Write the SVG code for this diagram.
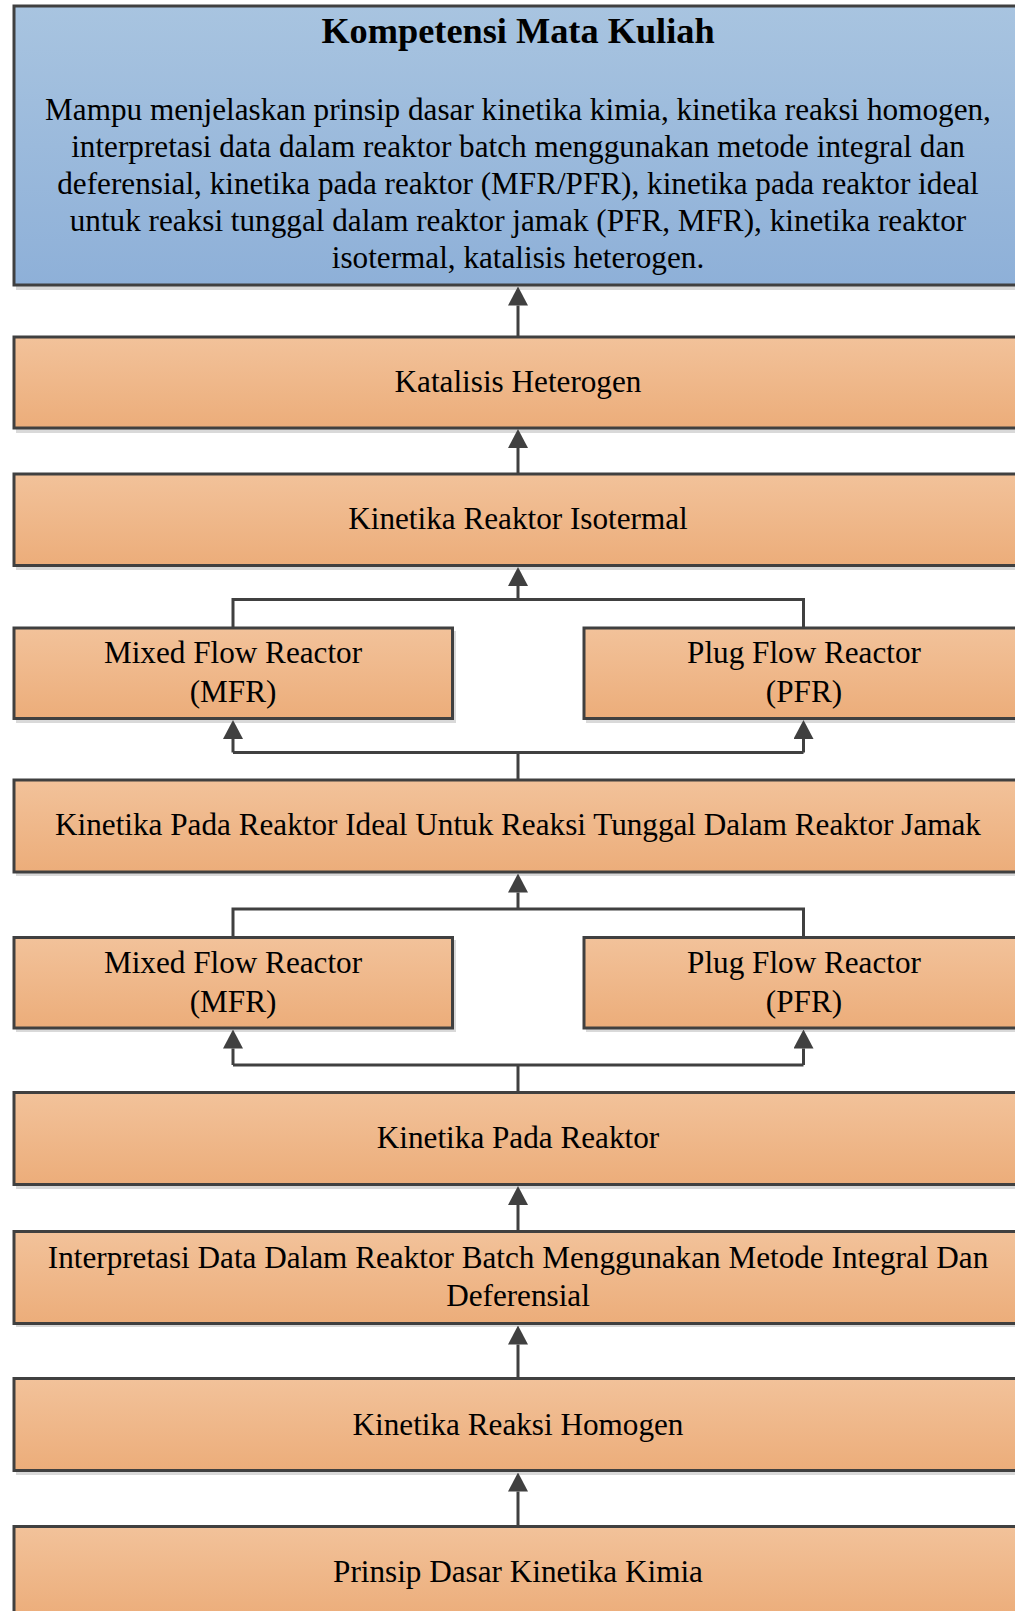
<svg xmlns="http://www.w3.org/2000/svg" width="1015" height="1611" viewBox="0 0 1015 1611">
<style>
.box{stroke:#404040;stroke-width:3;fill:url(#gOr)}
.blue{stroke:#404040;stroke-width:3;fill:url(#gBl)}
.sh{fill:#d9d9d9}
.t{font-family:"Liberation Serif","Times New Roman",serif;font-size:31.2px;fill:#000;text-anchor:middle}
.title{font-family:"Liberation Serif","Times New Roman",serif;font-size:36.3px;font-weight:bold;fill:#000;text-anchor:middle}
.c{fill:none;stroke:#404040;stroke-width:3}
</style>
<defs>
<linearGradient id="gOr" x1="0" y1="0" x2="0" y2="1">
<stop offset="0" stop-color="#f2c29a"/>
<stop offset="1" stop-color="#ecad7a"/>
</linearGradient>
<linearGradient id="gBl" x1="0" y1="0" x2="0" y2="1">
<stop offset="0" stop-color="#a8c4e0"/>
<stop offset="1" stop-color="#8eb0d8"/>
</linearGradient>
<marker id="ah" viewBox="0 0 19 20" markerWidth="19" markerHeight="20" refX="0" refY="10" orient="auto" markerUnits="userSpaceOnUse">
<path d="M0,0 L19,10 L0,20 Z" fill="#404040"/>
</marker>
</defs>

<g id="kompetensi">
<rect class="sh" x="16" y="9" width="1010" height="281"/>
<rect class="blue" x="14" y="6" width="1008" height="279"/>
<text class="title" x="518" y="43">Kompetensi Mata Kuliah</text>
<text class="t" x="518" y="120">Mampu menjelaskan prinsip dasar kinetika kimia, kinetika reaksi homogen,</text>
<text class="t" x="518" y="157">interpretasi data dalam reaktor batch menggunakan metode integral dan</text>
<text class="t" x="518" y="194">deferensial, kinetika pada reaktor (MFR/PFR), kinetika pada reaktor ideal</text>
<text class="t" x="518" y="231">untuk reaksi tunggal dalam reaktor jamak (PFR, MFR), kinetika reaktor</text>
<text class="t" x="518" y="268">isotermal, katalisis heterogen.</text>
</g>

<g id="katalisis">
<rect class="sh" x="16" y="340" width="1010" height="93"/>
<rect class="box" x="14" y="337" width="1008" height="91"/>
<text class="t" x="518" y="392">Katalisis Heterogen</text>
</g>

<g id="isotermal">
<rect class="sh" x="16" y="477" width="1010" height="93"/>
<rect class="box" x="14" y="474" width="1008" height="91.5"/>
<text class="t" x="518" y="529">Kinetika Reaktor Isotermal</text>
</g>

<g id="mfr1">
<rect class="sh" x="16" y="631" width="440" height="92"/>
<rect class="box" x="14" y="628" width="438.5" height="90.5"/>
<text class="t" x="233" y="663">Mixed Flow Reactor</text>
<text class="t" x="233" y="702">(MFR)</text>
</g>

<g id="pfr1">
<rect class="sh" x="586" y="631" width="440" height="92"/>
<rect class="box" x="584" y="628" width="440" height="90.5"/>
<text class="t" x="804" y="663">Plug Flow Reactor</text>
<text class="t" x="804" y="702">(PFR)</text>
</g>

<g id="ideal">
<rect class="sh" x="16" y="783" width="1010" height="93"/>
<rect class="box" x="14" y="780" width="1008" height="92"/>
<text class="t" x="518" y="835">Kinetika Pada Reaktor Ideal Untuk Reaksi Tunggal Dalam Reaktor Jamak</text>
</g>

<g id="mfr2">
<rect class="sh" x="16" y="940" width="440" height="92"/>
<rect class="box" x="14" y="937.5" width="438.5" height="90.5"/>
<text class="t" x="233" y="973">Mixed Flow Reactor</text>
<text class="t" x="233" y="1012">(MFR)</text>
</g>

<g id="pfr2">
<rect class="sh" x="586" y="940" width="440" height="92"/>
<rect class="box" x="584" y="937.5" width="440" height="90.5"/>
<text class="t" x="804" y="973">Plug Flow Reactor</text>
<text class="t" x="804" y="1012">(PFR)</text>
</g>

<g id="pada-reaktor">
<rect class="sh" x="16" y="1095" width="1010" height="94"/>
<rect class="box" x="14" y="1092.5" width="1008" height="92"/>
<text class="t" x="518" y="1148">Kinetika Pada Reaktor</text>
</g>

<g id="interpretasi">
<rect class="sh" x="16" y="1234" width="1010" height="93"/>
<rect class="box" x="14" y="1231.5" width="1008" height="92"/>
<text class="t" x="518" y="1268">Interpretasi Data Dalam Reaktor Batch Menggunakan Metode Integral Dan</text>
<text class="t" x="518" y="1306">Deferensial</text>
</g>

<g id="homogen">
<rect class="sh" x="16" y="1381" width="1010" height="94"/>
<rect class="box" x="14" y="1378.5" width="1008" height="92"/>
<text class="t" x="518" y="1435">Kinetika Reaksi Homogen</text>
</g>

<g id="prinsip">
<rect class="sh" x="16" y="1529" width="1010" height="94"/>
<rect class="box" x="14" y="1526.5" width="1008" height="92"/>
<text class="t" x="518" y="1582">Prinsip Dasar Kinetika Kimia</text>
</g>

<g id="connectors">
<path class="c" d="M518,336 V305.5" marker-end="url(#ah)"/>
<path class="c" d="M518,473 V448" marker-end="url(#ah)"/>
<path class="c" d="M233,627 V599.5 H803.5 V627"/>
<path class="c" d="M518,599.5 V586" marker-end="url(#ah)"/>
<path class="c" d="M518,779 V752.5"/>
<path class="c" d="M233,752.5 H803.5"/>
<path class="c" d="M233,752.5 V739" marker-end="url(#ah)"/>
<path class="c" d="M803.5,752.5 V739" marker-end="url(#ah)"/>
<path class="c" d="M233,936.5 V909 H803.5 V936.5"/>
<path class="c" d="M518,909 V892.5" marker-end="url(#ah)"/>
<path class="c" d="M518,1092 V1065"/>
<path class="c" d="M233,1065 H803.5"/>
<path class="c" d="M233,1065 V1048.5" marker-end="url(#ah)"/>
<path class="c" d="M803.5,1065 V1048.5" marker-end="url(#ah)"/>
<path class="c" d="M518,1231 V1205" marker-end="url(#ah)"/>
<path class="c" d="M518,1378 V1344.5" marker-end="url(#ah)"/>
<path class="c" d="M518,1526 V1491.5" marker-end="url(#ah)"/>
</g>
</svg>
